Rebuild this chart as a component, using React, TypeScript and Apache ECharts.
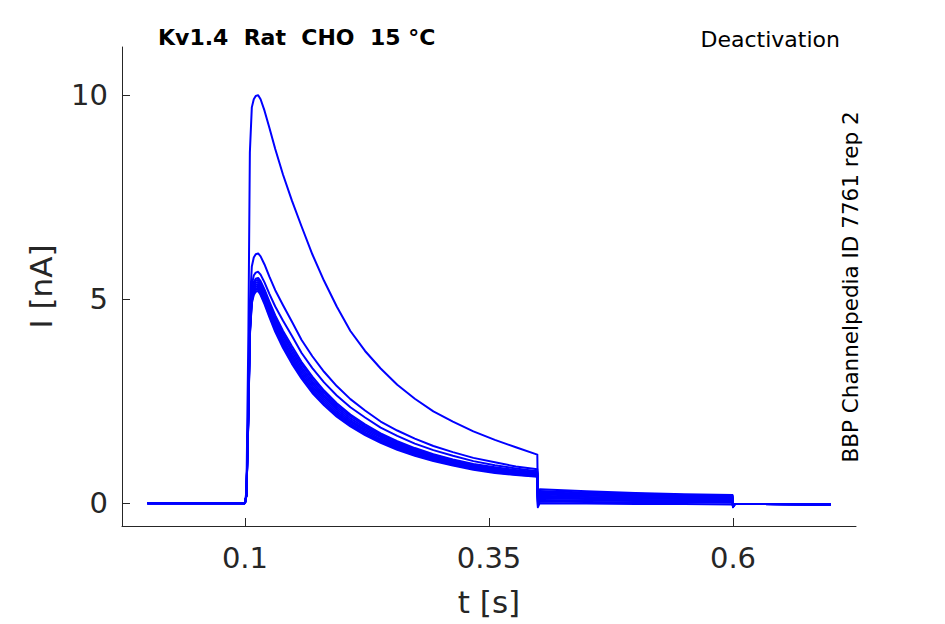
import React, { useEffect, useRef } from "react";
import * as echarts from "echarts";

// time points (s) for the first pulse segment (baseline + activation + decay)
const T_PULSE = [0, 0.1, 0.1015, 0.1035, 0.105, 0.107, 0.109, 0.111, 0.1135, 0.116, 0.12, 0.125, 0.131, 0.139, 0.148, 0.158, 0.169, 0.181, 0.194, 0.208, 0.223, 0.239, 0.256, 0.274, 0.293, 0.313, 0.334, 0.356, 0.3775, 0.3995];
// time points (s) for the tail segment
const T_TAIL = [0.4, 0.402, 0.45, 0.5, 0.55, 0.5995, 0.6, 0.602, 0.7];

// current (nA) per sweep, pulse segment
const PULSE_0 = [0, 0, 0.3, 4.2, 8.6, 9.7, 9.9, 9.98, 10.0, 9.9, 9.62, 9.2, 8.68, 8.05, 7.42, 6.78, 6.1, 5.45, 4.82, 4.22, 3.73, 3.3, 2.9, 2.56, 2.25, 2.0, 1.76, 1.55, 1.37, 1.19];
const PULSE_1 = [0, 0, 0.2, 2.6, 4.9, 5.8, 6.02, 6.1, 6.12, 6.05, 5.85, 5.55, 5.22, 4.85, 4.45, 4.0, 3.6, 3.22, 2.87, 2.55, 2.27, 2.0, 1.78, 1.58, 1.4, 1.25, 1.11, 1.0, 0.9, 0.83];
const PULSE_2 = [0, 0, 0.2, 2.4, 4.5, 5.35, 5.58, 5.65, 5.67, 5.6, 5.41, 5.13, 4.82, 4.47, 4.1, 3.68, 3.31, 2.96, 2.64, 2.35, 2.1, 1.85, 1.65, 1.46, 1.3, 1.16, 1.03, 0.93, 0.85, 0.78];
const PULSE_3 = [0, 0, 0.2, 2.3, 4.4, 5.2, 5.42, 5.5, 5.52, 5.44, 5.24, 4.94, 4.6, 4.22, 3.85, 3.46, 3.1, 2.76, 2.45, 2.17, 1.93, 1.71, 1.52, 1.35, 1.2, 1.07, 0.96, 0.88, 0.81, 0.75];
const PULSE_4 = [0, 0, 0.2, 2.27, 4.36, 5.16, 5.38, 5.46, 5.47, 5.39, 5.18, 4.88, 4.54, 4.15, 3.78, 3.4, 3.04, 2.71, 2.4, 2.13, 1.89, 1.68, 1.49, 1.32, 1.18, 1.05, 0.94, 0.86, 0.79, 0.74];
const PULSE_5 = [0, 0, 0.2, 2.24, 4.31, 5.11, 5.33, 5.41, 5.42, 5.33, 5.12, 4.82, 4.47, 4.09, 3.71, 3.33, 2.98, 2.65, 2.35, 2.08, 1.85, 1.64, 1.46, 1.29, 1.15, 1.03, 0.92, 0.84, 0.77, 0.72];
const PULSE_6 = [0, 0, 0.2, 2.2, 4.26, 5.06, 5.28, 5.36, 5.37, 5.28, 5.06, 4.76, 4.41, 4.02, 3.64, 3.27, 2.92, 2.6, 2.3, 2.03, 1.81, 1.61, 1.43, 1.27, 1.13, 1.01, 0.9, 0.82, 0.76, 0.71];
const PULSE_7 = [0, 0, 0.2, 2.17, 4.22, 5.02, 5.23, 5.31, 5.33, 5.23, 5.01, 4.7, 4.35, 3.96, 3.58, 3.21, 2.86, 2.55, 2.25, 1.99, 1.77, 1.57, 1.4, 1.24, 1.1, 0.99, 0.88, 0.8, 0.74, 0.69];
const PULSE_8 = [0, 0, 0.2, 2.15, 4.18, 4.98, 5.18, 5.26, 5.28, 5.18, 4.96, 4.65, 4.3, 3.9, 3.52, 3.15, 2.8, 2.5, 2.2, 1.95, 1.73, 1.54, 1.37, 1.21, 1.08, 0.97, 0.86, 0.78, 0.72, 0.675];
const PULSE_9 = [0, 0, 0.2, 2.12, 4.14, 4.94, 5.14, 5.22, 5.24, 5.14, 4.92, 4.6, 4.25, 3.85, 3.47, 3.1, 2.75, 2.45, 2.16, 1.91, 1.7, 1.51, 1.34, 1.18, 1.05, 0.94, 0.84, 0.76, 0.7, 0.66];
const PULSE_10 = [0, 0, 0.2, 2.1, 4.1, 4.9, 5.1, 5.18, 5.2, 5.1, 4.88, 4.56, 4.2, 3.8, 3.42, 3.05, 2.7, 2.4, 2.12, 1.88, 1.67, 1.48, 1.31, 1.16, 1.03, 0.92, 0.82, 0.74, 0.69, 0.65];

// current (nA) per sweep, tail segment
const TAIL_0 = [0.26, 0.34, 0.29, 0.25, 0.22, 0.2, -0.08, -0.02, -0.03];
const TAIL_1 = [0.22, 0.3, 0.26, 0.23, 0.2, 0.18, -0.08, -0.02, -0.03];
const TAIL_2 = [0.19, 0.27, 0.23, 0.2, 0.18, 0.16, -0.08, -0.02, -0.03];
const TAIL_3 = [0.16, 0.24, 0.2, 0.18, 0.16, 0.14, -0.08, -0.02, -0.03];
const TAIL_4 = [0.13, 0.21, 0.18, 0.16, 0.14, 0.12, -0.08, -0.02, -0.03];
const TAIL_5 = [0.1, 0.18, 0.15, 0.13, 0.12, 0.1, -0.08, -0.02, -0.03];
const TAIL_6 = [0.07, 0.15, 0.12, 0.11, 0.1, 0.08, -0.08, -0.02, -0.03];
const TAIL_7 = [0.04, 0.12, 0.1, 0.08, 0.07, 0.06, -0.08, -0.02, -0.03];
const TAIL_8 = [0.0, 0.08, 0.07, 0.05, 0.05, 0.04, -0.08, -0.02, -0.03];
const TAIL_9 = [-0.05, 0.04, 0.03, 0.02, 0.02, 0.01, -0.08, -0.02, -0.03];
const TAIL_10 = [-0.1, 0.0, -0.01, -0.02, -0.02, -0.03, -0.1, -0.02, -0.03];

const PULSES = [PULSE_0, PULSE_1, PULSE_2, PULSE_3, PULSE_4, PULSE_5, PULSE_6, PULSE_7, PULSE_8, PULSE_9, PULSE_10];
const TAILS = [TAIL_0, TAIL_1, TAIL_2, TAIL_3, TAIL_4, TAIL_5, TAIL_6, TAIL_7, TAIL_8, TAIL_9, TAIL_10];

const X_TICKS = [0.1, 0.35, 0.6];
const Y_TICKS = [0, 5, 10];

const TITLE = "Kv1.4  Rat  CHO  15 °C";
const PROTOCOL = "Deactivation";
const SOURCE = "BBP Channelpedia ID 7761 rep 2";

const FONT = "DejaVu Sans";
const AXIS_COLOR = "#262626";

export default function App() {
  const ref = useRef<HTMLDivElement>(null);

  useEffect(() => {
    if (!ref.current) return;
    const chart = echarts.init(ref.current, undefined, { renderer: "svg" });

    const series = PULSES.map((p, i) => {
      const data: number[][] = [];
      T_PULSE.forEach((t, j) => data.push([t, p[j]]));
      T_TAIL.forEach((t, j) => data.push([t, TAILS[i][j]]));
      return {
        type: "line",
        data,
        showSymbol: false,
        symbol: "none",
        lineStyle: { color: "#0000ff", width: 2, join: "round" },
        z: 3,
      };
    });

    chart.setOption({
      animation: false,
      backgroundColor: "#ffffff",
      grid: { left: 122, right: 89, top: 47, bottom: 98, containLabel: false },
      xAxis: {
        type: "value",
        min: -0.026,
        max: 0.726,
        name: "t [s]",
        nameLocation: "middle",
        nameGap: 60,
        nameTextStyle: { fontFamily: FONT, fontSize: 31, color: AXIS_COLOR },
        splitLine: { show: false },
        axisLine: { show: true, onZero: false, lineStyle: { color: AXIS_COLOR, width: 1 } },
        axisTick: { show: true, inside: true, length: 8, customValues: X_TICKS, lineStyle: { color: AXIS_COLOR } },
        axisLabel: {
          customValues: X_TICKS,
          fontFamily: FONT,
          fontSize: 29,
          color: AXIS_COLOR,
          margin: 17,
          formatter: (v: number) => String(v),
        },
      },
      yAxis: {
        type: "value",
        min: -0.56,
        max: 11.18,
        name: "I [nA]",
        nameLocation: "middle",
        nameGap: 66,
        nameTextStyle: { fontFamily: FONT, fontSize: 31, color: AXIS_COLOR },
        splitLine: { show: false },
        axisLine: { show: true, onZero: false, lineStyle: { color: AXIS_COLOR, width: 1 } },
        axisTick: { show: true, inside: true, length: 8, customValues: Y_TICKS, lineStyle: { color: AXIS_COLOR } },
        axisLabel: {
          customValues: Y_TICKS,
          fontFamily: FONT,
          fontSize: 29,
          color: AXIS_COLOR,
          margin: 14,
          formatter: (v: number) => String(v),
        },
      },
      graphic: [
        {
          type: "text",
          left: 158,
          top: 26,
          style: { text: TITLE, fontFamily: FONT, fontSize: 22, fontWeight: "bold", fill: "#000000" },
        },
        {
          type: "text",
          x: 840,
          y: 39,
          style: { text: PROTOCOL, fontFamily: FONT, fontSize: 22, fill: "#000000", align: "right", verticalAlign: "middle" },
        },
        {
          type: "text",
          x: 850,
          y: 287,
          rotation: Math.PI / 2,
          style: { text: SOURCE, fontFamily: FONT, fontSize: 21.5, fill: "#000000", align: "center", verticalAlign: "middle" },
        },
      ],
      series,
    });

    return () => chart.dispose();
  }, []);

  return (
    <div
      ref={ref}
      style={{ position: "fixed", left: 0, top: 0, width: 945, height: 624, background: "#fff" }}
    />
  );
}
